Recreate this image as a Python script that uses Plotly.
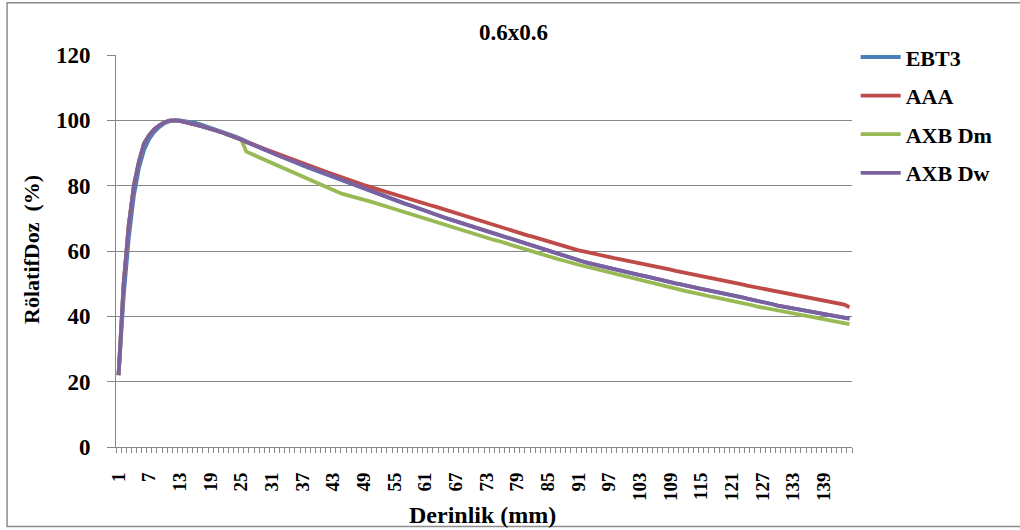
import plotly.graph_objects as go

depths = list(range(1, 145))
tick_labels = ["1", "7", "13", "19", "25", "31", "37", "43", "49", "55", "61", "67", "73",
               "79", "85", "91", "97", "103", "109", "115", "121", "127", "133", "139"]

ebt3 = [22.0, 46.0, 64.0, 77.0, 85.5, 91.0, 94.3, 96.5, 98.0, 99.1, 99.7, 100.0,
        100.0, 99.8, 99.5, 99.2, 98.8, 98.3, 97.8, 97.3, 96.8, 96.2, 95.6, 95.0, 94.3, 93.5,
        92.8, 92.1, 91.4, 90.8, 90.1, 89.4, 88.8, 88.1, 87.4, 86.8, 86.2, 85.6, 85.0, 84.4,
        83.8, 83.2, 82.6, 82.0, 81.4, 80.9, 80.3, 79.7, 79.2, 78.6, 78.0, 77.4, 76.8, 76.3,
        75.7, 75.1, 74.5, 74.0, 73.4, 72.8, 72.2, 71.7, 71.2, 70.6, 70.1, 69.6, 69.1, 68.6,
        68.1, 67.6, 67.1, 66.6, 66.0, 65.5, 65.0, 64.5, 63.9, 63.4, 62.9, 62.4, 61.9, 61.4,
        60.9, 60.4, 60.0, 59.5, 59.0, 58.5, 58.0, 57.5, 57.1, 56.7, 56.3, 55.9, 55.5, 55.2,
        54.8, 54.4, 54.1, 53.7, 53.3, 53.0, 52.6, 52.3, 51.9, 51.5, 51.2, 50.8, 50.5, 50.1,
        49.8, 49.4, 49.1, 48.8, 48.4, 48.1, 47.8, 47.5, 47.2, 46.8, 46.5, 46.1, 45.8, 45.4,
        45.1, 44.7, 44.4, 44.0, 43.7, 43.3, 43.0, 42.7, 42.4, 42.1, 41.9, 41.6, 41.3, 41.0,
        40.7, 40.4, 40.1, 39.8, 39.6, 39.3]

aaa = [22.0, 50.0, 68.0, 80.0, 87.5, 93.0, 95.5, 97.3, 98.5, 99.4, 99.9, 100.0,
       99.8, 99.5, 99.1, 98.7, 98.3, 97.9, 97.4, 96.9, 96.4, 95.9, 95.3, 94.7, 94.1, 93.4,
       92.9, 92.3, 91.6, 91.0, 90.4, 89.7, 89.2, 88.5, 87.9, 87.3, 86.8, 86.2, 85.7, 85.1,
       84.6, 84.0, 83.5, 82.9, 82.3, 81.8, 81.2, 80.7, 80.2, 79.7, 79.2, 78.7, 78.2, 77.8,
       77.3, 76.8, 76.3, 75.9, 75.4, 74.9, 74.4, 74.0, 73.6, 73.1, 72.6, 72.2, 71.7, 71.2,
       70.8, 70.3, 69.8, 69.3, 68.8, 68.3, 67.8, 67.3, 66.8, 66.3, 65.8, 65.3, 64.8, 64.4,
       63.9, 63.4, 63.0, 62.5, 62.0, 61.5, 61.0, 60.6, 60.2, 59.9, 59.5, 59.2, 58.8, 58.5,
       58.2, 57.8, 57.5, 57.2, 56.8, 56.5, 56.2, 55.9, 55.6, 55.2, 54.9, 54.6, 54.3, 53.9,
       53.6, 53.3, 53.0, 52.7, 52.3, 52.0, 51.7, 51.4, 51.1, 50.8, 50.5, 50.1, 49.8, 49.4,
       49.1, 48.7, 48.4, 48.1, 47.8, 47.4, 47.1, 46.8, 46.5, 46.2, 46.0, 45.7, 45.4, 45.1,
       44.8, 44.5, 44.2, 44.0, 43.6, 42.8]

axb_dm = [22.0, 50.0, 68.0, 80.0, 87.5, 93.0, 95.5, 97.3, 98.5, 99.4, 99.9, 100.0,
          99.8, 99.5, 99.1, 98.7, 98.3, 97.9, 97.4, 96.9, 96.4, 95.9, 95.3, 94.7, 94.1, 90.4,
          89.7, 89.0, 88.3, 87.6, 86.9, 86.2, 85.5, 84.7, 84.0, 83.3, 82.6, 81.9, 81.3, 80.6,
          79.9, 79.3, 78.6, 78.0, 77.4, 77.0, 76.6, 76.2, 75.8, 75.3, 74.8, 74.3, 73.8, 73.3,
          72.8, 72.3, 71.8, 71.3, 70.8, 70.3, 69.8, 69.3, 68.8, 68.3, 67.8, 67.3, 66.8, 66.3,
          65.9, 65.5, 65.0, 64.6, 64.1, 63.6, 63.2, 62.7, 62.2, 61.8, 61.3, 60.8, 60.3, 59.9,
          59.4, 58.9, 58.5, 58.0, 57.5, 57.1, 56.6, 56.2, 55.8, 55.4, 55.0, 54.6, 54.2, 53.8,
          53.4, 53.0, 52.6, 52.2, 51.8, 51.4, 51.0, 50.7, 50.3, 49.9, 49.6, 49.2, 48.8, 48.4,
          48.1, 47.7, 47.4, 47.0, 46.7, 46.4, 46.0, 45.7, 45.4, 45.1, 44.7, 44.4, 44.0, 43.7,
          43.4, 43.0, 42.7, 42.4, 42.0, 41.7, 41.4, 41.0, 40.7, 40.4, 40.1, 39.8, 39.6, 39.3,
          39.0, 38.7, 38.4, 38.2, 37.9, 37.6]

axb_dw = [22.0, 50.0, 68.0, 80.0, 87.5, 93.0, 95.5, 97.3, 98.5, 99.4, 99.9, 100.0,
          99.8, 99.5, 99.1, 98.7, 98.3, 97.9, 97.4, 96.9, 96.4, 95.9, 95.3, 94.7, 94.1, 93.4,
          92.8, 92.1, 91.4, 90.8, 90.1, 89.4, 88.8, 88.1, 87.4, 86.8, 86.2, 85.6, 85.0, 84.4,
          83.8, 83.2, 82.6, 82.0, 81.4, 80.9, 80.3, 79.7, 79.2, 78.6, 78.0, 77.4, 76.8, 76.3,
          75.7, 75.1, 74.5, 74.0, 73.4, 72.8, 72.2, 71.7, 71.2, 70.6, 70.1, 69.6, 69.1, 68.6,
          68.1, 67.6, 67.1, 66.6, 66.0, 65.5, 65.0, 64.5, 63.9, 63.4, 62.9, 62.4, 61.9, 61.4,
          60.9, 60.4, 60.0, 59.5, 59.0, 58.5, 58.0, 57.5, 57.1, 56.7, 56.3, 55.9, 55.5, 55.2,
          54.8, 54.4, 54.1, 53.7, 53.3, 53.0, 52.6, 52.3, 51.9, 51.5, 51.2, 50.8, 50.5, 50.1,
          49.8, 49.4, 49.1, 48.8, 48.4, 48.1, 47.8, 47.5, 47.2, 46.8, 46.5, 46.1, 45.8, 45.4,
          45.1, 44.7, 44.4, 44.0, 43.7, 43.3, 43.0, 42.7, 42.4, 42.1, 41.9, 41.6, 41.3, 41.0,
          40.7, 40.4, 40.1, 39.8, 39.6, 39.3]

series_names = ["EBT3", "AAA", "AXB Dm", "AXB Dw"]
series_values = [ebt3, aaa, axb_dm, axb_dw]
series_colors = ["#4A7EBB", "#BE4B48", "#98B954", "#7D60A0"]

y_ticks = [0, 20, 40, 60, 80, 100, 120]

FONT = "Liberation Serif, Times New Roman, serif"
GRID = "#868686"

fig = go.Figure()
for name, vals, col in zip(series_names, series_values, series_colors):
    fig.add_trace(go.Scatter(
        x=depths, y=vals, name=name, mode="lines",
        line=dict(color=col, width=3.8),
        legendgroup=name,
    ))

boundaries = [d - 0.5 for d in depths] + [depths[-1] + 0.5]

fig.update_layout(
    width=1020, height=530,
    margin=dict(l=116, r=168, t=55, b=83),
    paper_bgcolor="white", plot_bgcolor="white",
    font=dict(family=FONT, color="black"),
    showlegend=True,
    legend=dict(
        x=1.005, xanchor="left", y=1.048, yanchor="top",
        font=dict(family=FONT, size=22, color="black", weight="bold"),
        tracegroupgap=7, bgcolor="rgba(0,0,0,0)",
        itemwidth=40,
    ),
    xaxis=dict(
        range=[depths[0] - 0.5, depths[-1] + 0.5],
        tickmode="array",
        tickvals=[int(t) for t in tick_labels],
        ticktext=tick_labels,
        tickangle=-90,
        ticks="outside", ticklen=5, tickcolor="rgba(0,0,0,0)",
        ticklabelstandoff=12,
        tickfont=dict(family=FONT, size=19, color="black", weight="bold"),
        showgrid=False, zeroline=False,
        showline=True, linecolor=GRID, linewidth=1,
        minor=dict(tickmode="array", tickvals=boundaries, ticks="outside",
                   ticklen=5, tickcolor=GRID, showgrid=False),
    ),
    yaxis=dict(
        range=[0, 120],
        tickmode="array", tickvals=y_ticks,
        ticks="outside", ticklen=8, tickcolor=GRID,
        ticklabelstandoff=12,
        tickfont=dict(family=FONT, size=23, color="black", weight="bold"),
        showgrid=True, gridcolor=GRID, gridwidth=1,
        zeroline=False,
        showline=True, linecolor=GRID, linewidth=1,
    ),
    annotations=[
        dict(text="0.6x0.6", x=0.54, y=1.058, xref="paper", yref="paper",
             showarrow=False, xanchor="center", yanchor="middle",
             font=dict(family=FONT, size=23, color="black", weight="bold")),
        dict(text="RölatifDoz\u00a0 (%)", x=-0.114, y=0.503, xref="paper", yref="paper",
             showarrow=False, xanchor="center", yanchor="middle", textangle=-90,
             font=dict(family=FONT, size=22, color="black", weight="bold")),
        dict(text="Derinlik (mm)", x=0.498, y=-0.173, xref="paper", yref="paper",
             showarrow=False, xanchor="center", yanchor="middle",
             font=dict(family=FONT, size=24, color="black", weight="bold")),
    ],
    shapes=[
        dict(type="rect", xref="paper", yref="paper",
             x0=-0.148, x1=1.235, y0=-0.203, y1=1.133,
             line=dict(color="#8C8C8C", width=1.5), fillcolor="rgba(0,0,0,0)",
             layer="below"),
    ],
)

fig.write_html("out.html",
               config={"displayModeBar": False},
               post_script="document.body.style.margin='0';document.body.style.padding='0';")
